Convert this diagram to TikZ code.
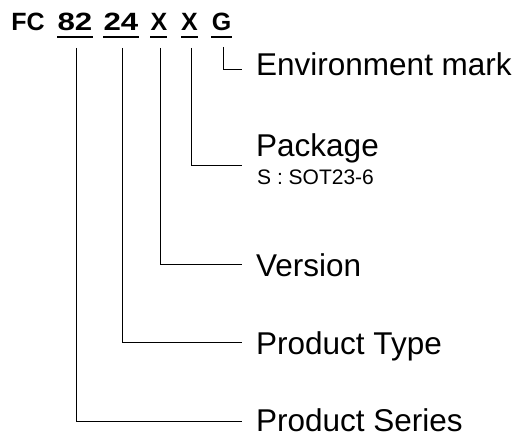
\documentclass[tikz,border=0pt]{standalone}
\usepackage{fontspec}
\usepackage{graphicx}
\setmainfont{Liberation Sans}
\begin{document}
\begin{tikzpicture}[x=1pt,y=-1pt,
  hdr/.style={font=\fontsize{25}{25}\selectfont\bfseries, inner sep=0pt, anchor=base},
  lbl/.style={font=\fontsize{31.5}{31.5}\selectfont, inner sep=0pt, anchor=base west},
  sublbl/.style={font=\fontsize{21}{21}\selectfont, inner sep=0pt, anchor=base west},
  ln/.style={line width=1pt, black},
  ul/.style={line width=1.6pt, black}]
\useasboundingbox (0,0) rectangle (512,438);
% header
\node[hdr] (fc) at (28,30.5) {FC};
\node[hdr] (p82) at (75,30.5) {\scalebox{1.25}[1]{82}};
\node[hdr] (p24) at (121,30.5) {\scalebox{1.25}[1]{24}};
\node[hdr] (x1) at (159,30.5) {X};
\node[hdr] (x2) at (189.5,30.5) {X};
\node[hdr] (g) at (221.5,30.5) {G};
% underlines
\draw[ul] (57,37) -- (93,37);
\draw[ul] (103,37) -- (139,37);
\draw[ul] (150,37) -- (167,37);
\draw[ul] (181,37) -- (198,37);
\draw[ul] (211,37) -- (232,37);
% labels
\node[lbl] (env) at (256,76) {Environment mark};
\node[lbl] (pkg) at (256,157) {Package};
\node[sublbl] (sot) at (257,185) {S : SOT23-6};
\node[lbl] (ver) at (256,277) {Version};
\node[lbl] (ptype) at (256,355) {Product Type};
\node[lbl] (pser) at (256,432) {Product Series};
% connector end points
\coordinate (eg) at (242,70);
\coordinate (ex2) at (242,166);
\coordinate (ex1) at (242,265);
\coordinate (e24) at (242,343);
\coordinate (e82) at (242,422);
\coordinate (sg) at (223,47);
\coordinate (sx2) at (191,48);
\coordinate (sx1) at (160,48);
\coordinate (s24) at (122,48);
\coordinate (s82) at (76,48);
\draw[ln] (sg) |- (eg);
\draw[ln] (sx2) |- (ex2);
\draw[ln] (sx1) |- (ex1);
\draw[ln] (s24) |- (e24);
\draw[ln] (s82) |- (e82);
\end{tikzpicture}
\end{document}
